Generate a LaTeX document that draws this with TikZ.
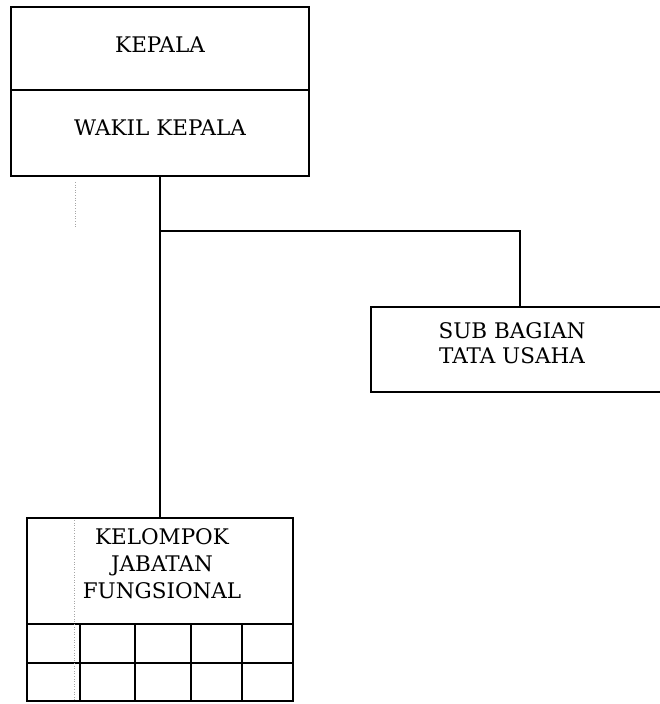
\documentclass[tikz,border=0pt]{standalone}
\usepackage{fontspec}
\setmainfont{DejaVu Serif}
\begin{document}
\begin{tikzpicture}[x=1pt,y=-1pt,
  box/.style={draw,line width=1.3pt},
  conn/.style={draw,line width=1.3pt},
  lbl/.style={align=center,font=\fontsize{21.5}{27}\selectfont,inner sep=0pt},
  faint/.style={draw=black!35,dotted,line width=0.6pt}]
\useasboundingbox (0,0) rectangle (660,704);
\begin{scope}
\clip (0,0) rectangle (660,704);
% top box
\draw[box] (11,7) rectangle (309,176);
\draw[box] (11,90) -- (309,90);
\node[lbl] (kepala) at (160,45) {KEPALA};
\node[lbl] (wakil) at (160,128) {WAKIL KEPALA};
\coordinate (topb) at (160,176);
% sub bagian box
\draw[box] (371,307) rectangle (664,392);
\node[lbl,font=\fontsize{21.5}{25}\selectfont] (sub) at (512,343) {SUB BAGIAN\\TATA USAHA};
\coordinate (subt) at (520,307);
% kelompok box
\draw[box] (27,518) rectangle (293,701);
\draw[box] (27,624) -- (293,624);
\draw[box] (27,663) -- (293,663);
\foreach \x in {80,135,191,242} \draw[box] (\x,624) -- (\x,701);
\node[lbl] (kel) at (162,564) {KELOMPOK\\JABATAN\\FUNGSIONAL};
\coordinate (kelt) at (160,518);
% connectors
\coordinate (br) at (160,231);
\draw[conn] (topb) -- (kelt);
\draw[conn] (br) -| (subt);
% faint scan dots
\draw[faint] (75,182) -- (75,228);
\draw[faint] (74,520) -- (74,700);
\end{scope}
\end{tikzpicture}
\end{document}
